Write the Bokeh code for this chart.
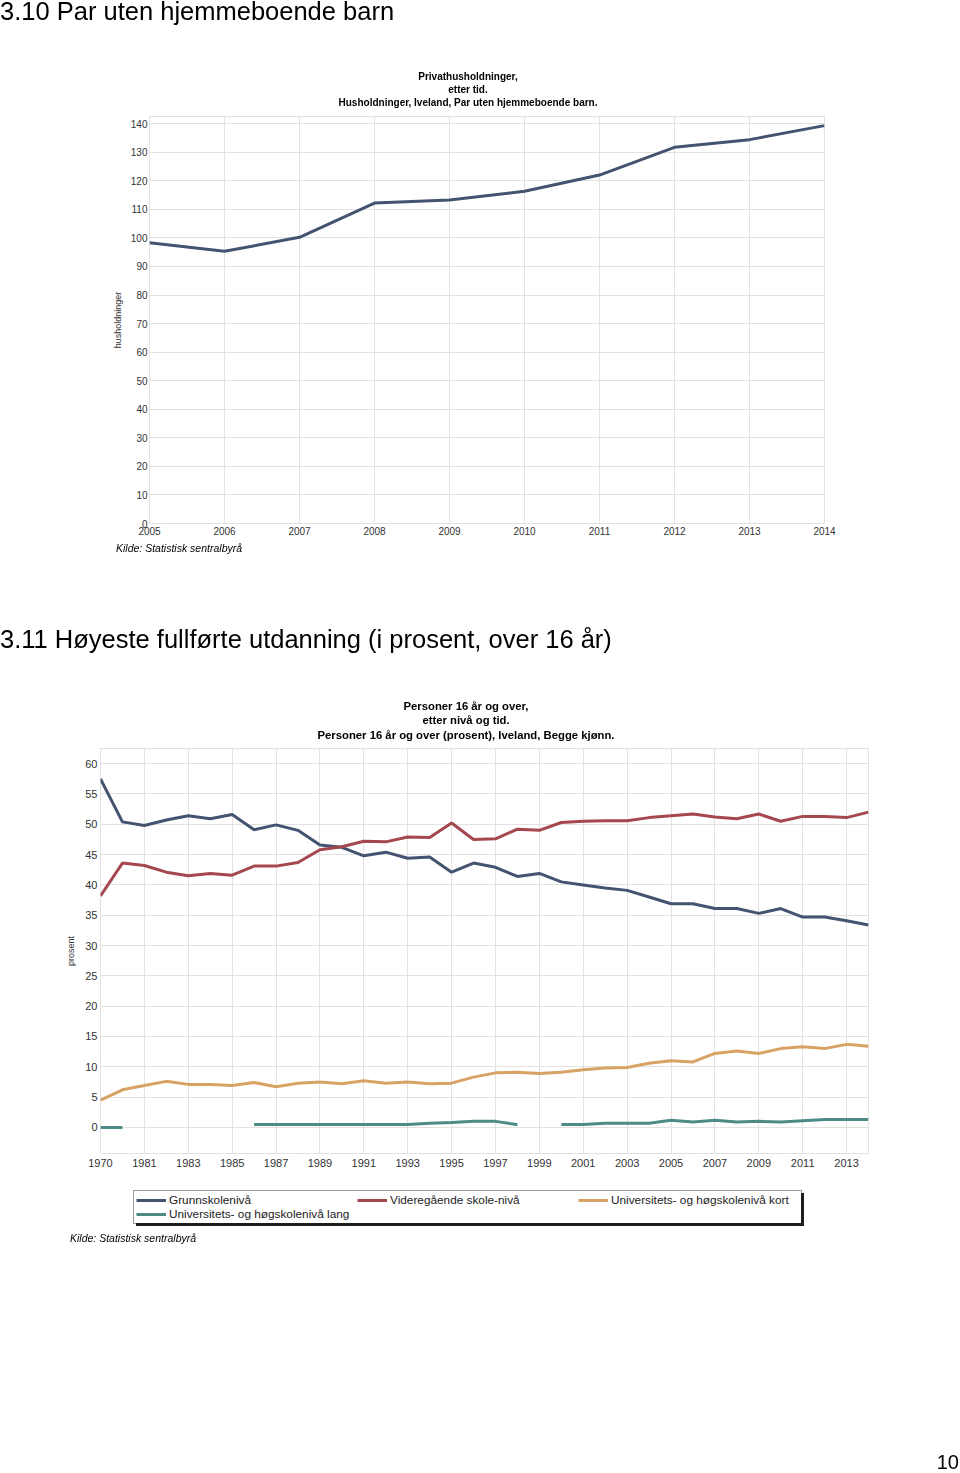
from bokeh.plotting import figure
from bokeh.models import Legend, LegendItem, FixedTicker, Div
from bokeh.embed import file_html
from bokeh.resources import INLINE

FONT = "Liberation Sans"

# ---------------- Data: 3.10 ----------------
hh_years = [2005, 2006, 2007, 2008, 2009, 2010, 2011, 2012, 2013, 2014]
hh_values = [98.3, 95.3, 100.2, 112.2, 113.3, 116.3, 122.0, 131.7, 134.4, 139.3]
hh_yticks = [0, 10, 20, 30, 40, 50, 60, 70, 80, 90, 100, 110, 120, 130, 140]

# ---------------- Data: 3.11 ----------------
edu_years = ["1970", "1980", "1981", "1982", "1983", "1984", "1985", "1986", "1987",
             "1988", "1989", "1990", "1991", "1992", "1993", "1994", "1995", "1996",
             "1997", "1998", "1999", "2000", "2001", "2002", "2003", "2004", "2005",
             "2006", "2007", "2008", "2009", "2010", "2011", "2012", "2013", "2014"]
grunnskole = [57.5, 50.4, 49.8, 50.7, 51.4, 50.9, 51.6, 49.1, 49.9, 49.0, 46.6, 46.2,
              44.8, 45.4, 44.4, 44.6, 42.1, 43.6, 42.9, 41.4, 41.9, 40.5, 40.0, 39.5,
              39.1, 38.0, 36.9, 36.9, 36.1, 36.1, 35.3, 36.1, 34.7, 34.7, 34.1, 33.4]
videregaende = [38.2, 43.6, 43.2, 42.1, 41.5, 41.9, 41.6, 43.1, 43.1, 43.7, 45.8, 46.3,
                47.2, 47.1, 47.9, 47.8, 50.2, 47.5, 47.6, 49.2, 49.0, 50.3, 50.5, 50.6,
                50.6, 51.1, 51.4, 51.7, 51.2, 50.9, 51.7, 50.5, 51.3, 51.3, 51.1, 52.0]
uni_kort = [4.5, 6.2, 6.9, 7.6, 7.1, 7.1, 6.9, 7.4, 6.7, 7.3, 7.5, 7.2,
            7.7, 7.3, 7.5, 7.2, 7.3, 8.3, 9.0, 9.1, 8.9, 9.1, 9.5, 9.8,
            9.9, 10.6, 11.0, 10.8, 12.2, 12.6, 12.2, 13.0, 13.3, 13.0, 13.7, 13.4]
nan = float("nan")
uni_lang = [0.0, 0.0, nan, nan, nan, nan, nan, 0.5, 0.5, 0.5, 0.5, 0.5,
            0.5, 0.5, 0.5, 0.7, 0.8, 1.0, 1.0, 0.45, nan, 0.5, 0.5, 0.7,
            0.7, 0.7, 1.2, 0.9, 1.2, 0.9, 1.0, 0.9, 1.1, 1.3, 1.3, 1.3]
edu_yticks = [0, 5, 10, 15, 20, 25, 30, 35, 40, 45, 50, 55, 60]
series_names = ["Grunnskolenivå", "Videregående skole-nivå",
                "Universitets- og høgskolenivå kort", "Universitets- og høgskolenivå lang"]
series_colors = ["#44536f", "#a5474e", "#d8a264", "#4d8b87"]

GRID = "#e2e2e2"
TICKCOL = "#333333"


def style_axes(p, label_size, xstand, ystand):
    for ax in (p.xaxis[0], p.yaxis[0]):
        ax.axis_line_color = None
        ax.major_tick_line_color = None
        ax.minor_tick_line_color = None
        ax.major_tick_out = 0
        ax.major_tick_in = 0
        ax.minor_tick_out = 0
        ax.minor_tick_in = 0
        ax.major_label_text_font = FONT
        ax.major_label_text_font_size = label_size
        ax.major_label_text_color = TICKCOL
        ax.axis_label_text_font = FONT
        ax.axis_label_text_font_style = "normal"
        ax.axis_label_text_font_size = "9px"
        ax.axis_label_text_color = TICKCOL
    p.xaxis[0].major_label_standoff = xstand
    p.yaxis[0].major_label_standoff = ystand
    p.xgrid.grid_line_color = GRID
    p.ygrid.grid_line_color = GRID
    p.outline_line_color = GRID
    p.background_fill_color = "white"
    p.border_fill_color = "white"


# ---------------- Figure 1 (page y 0..590) ----------------
# frame: left 149, right 824, top 116, bottom 523
p1 = figure(width=960, height=590, output_backend="svg", toolbar_location=None,
            x_range=(2005, 2014), y_range=(0, 142.5),
            min_border_left=149, min_border_right=136, min_border_top=116, min_border_bottom=67)
p1.xaxis.ticker = FixedTicker(ticks=hh_years)
p1.yaxis.ticker = FixedTicker(ticks=hh_yticks)
p1.yaxis.axis_label = "husholdninger"
p1.yaxis.axis_label_standoff = 5
style_axes(p1, "10px", 3, 2)
p1.line(hh_years, hh_values, line_color=series_colors[0], line_width=3)

# ---------------- Figure 2 (page y 590..1180) ----------------
# frame: left 100, right 868, top 748, bottom 1153 (page coords)
p2 = figure(width=960, height=590, output_backend="svg", toolbar_location=None,
            x_range=(0, len(edu_years) - 1), y_range=(-4.3, 62.5),
            min_border_left=100, min_border_right=92, min_border_top=158, min_border_bottom=27)
xt = list(range(0, len(edu_years), 2))
p2.xaxis.ticker = FixedTicker(ticks=xt)
p2.xaxis.major_label_overrides = {i: edu_years[i] for i in xt}
p2.yaxis.ticker = FixedTicker(ticks=edu_yticks)
p2.yaxis.axis_label = "prosent"
p2.yaxis.axis_label_standoff = 6
style_axes(p2, "11px", 5, 3)

xs = list(range(len(edu_years)))
series = [grunnskole, videregaende, uni_kort, uni_lang]
for vals, col in zip(series, series_colors):
    p2.line(xs, vals, line_color=col, line_width=3)

# ---------------- Legend strip (page y 1180..1472) ----------------
p3 = figure(width=960, height=292, output_backend="svg", toolbar_location=None,
            x_range=(0, 1), y_range=(0, 1), x_axis_type=None, y_axis_type=None,
            min_border_left=133, min_border_right=0, min_border_top=10, min_border_bottom=0)
p3.grid.visible = False
p3.outline_line_color = None
p3.background_fill_color = "white"
p3.border_fill_color = "white"
# legend proxies: one-point lines (draw nothing themselves, only the legend swatch)
proxies = [p3.line(x=[xs[-1]], y=[vals[-1]], line_color=c, line_width=3)
           for vals, c in zip(series, series_colors)]
legend = Legend(items=[LegendItem(label=n, renderers=[r]) for n, r in zip(series_names, proxies)],
                location="top_left", orientation="horizontal", ncols=3,
                label_text_font=FONT, label_text_font_size="11.8px", label_text_color="#222222",
                glyph_width=30, glyph_height=12, label_height=12, label_width=188,
                label_standoff=3, spacing=0, padding=2, margin=0,
                border_line_color="#333333", border_line_width=1,
                background_fill_color="white", background_fill_alpha=1.0)
p3.add_layout(legend)


# ---------------- Page texts (fixed positions in page pixels) ----------------
def txt(left, top, text, size, lh, weight="normal", style="normal", align="left", width=None,
        right=None):
    pos = f"right:{right}px;" if right is not None else f"left:{left}px;"
    w = f"width:{width}px;" if width else "white-space:nowrap;"
    return (f'<div style="position:fixed;{pos}top:{top}px;{w}font-family:\'{FONT}\';'
            f'font-size:{size}px;line-height:{lh}px;font-weight:{weight};font-style:{style};'
            f'text-align:{align};color:#000;z-index:10;">{text}</div>')


def box(left, top, w, h):
    return (f'<div style="position:fixed;left:{left}px;top:{top}px;width:{w}px;height:{h}px;'
            f'background:#1e1e1e;z-index:9;"></div>')


html = "".join([
    txt(0, 0, "3.10 Par uten hjemmeboende barn", 25.5, 22),
    txt(168, 69.5, "Privathusholdninger,<br>etter tid.<br>Husholdninger, Iveland, Par uten hjemmeboende barn.",
        10, 13, weight="bold", align="center", width=600),
    txt(116, 541, "Kilde: Statistisk sentralbyrå", 10.5, 14, style="italic"),
    txt(0, 624, "3.11 Høyeste fullførte utdanning (i prosent, over 16 år)", 25.5, 30),
    txt(166, 698.5, "Personer 16 år og over,<br>etter nivå og tid.<br>Personer 16 år og over (prosent), Iveland, Begge kjønn.",
        11.3, 14.5, weight="bold", align="center", width=600),
    txt(70, 1231, "Kilde: Statistisk sentralbyrå", 10.5, 14, style="italic"),
    txt(0, 1450, "10", 20, 24, right=1),
    box(801, 1193, 3, 32),
    box(136, 1223, 668, 3),
])
page_text = Div(text=html, width=960, height=1, margin=0)

open("out.html", "w").write(file_html([p1, p2, p3, page_text], INLINE))
